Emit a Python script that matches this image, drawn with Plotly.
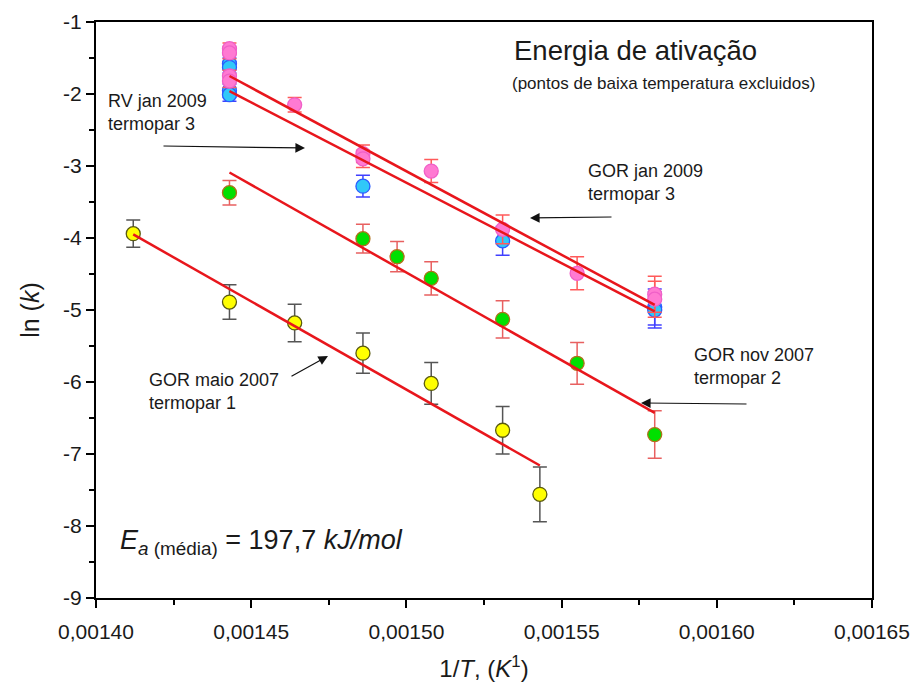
import plotly.graph_objects as go
import numpy as np

# ---------------- data ----------------
# GOR maio 2007, termopar 1 (yellow)
maio_x = [0.001412, 0.001443, 0.001464, 0.001486, 0.001508, 0.001531, 0.001543]
maio_y = [-3.94, -4.89, -5.18, -5.60, -6.02, -6.67, -7.56]
maio_err = [0.19, 0.24, 0.26, 0.28, 0.29, 0.33, 0.38]

# GOR nov 2007, termopar 2 (green)
nov_x = [0.001443, 0.001486, 0.001497, 0.001508, 0.001531, 0.001555, 0.001580]
nov_y = [-3.37, -4.01, -4.26, -4.56, -5.13, -5.74, -6.73]
nov_err = [0.17, 0.20, 0.21, 0.23, 0.26, 0.29, 0.33]

# jan 2009, termopar 3 (pink)
pink_x = [0.001443, 0.001443, 0.001443, 0.001443, 0.001464, 0.001486, 0.001486,
          0.001508, 0.001531, 0.001555, 0.001580, 0.001580]
pink_y = [-1.37, -1.43, -1.75, -1.82, -2.15, -2.83, -2.90,
          -3.07, -3.88, -4.49, -4.78, -4.85]
pink_err = [0.08, 0.08, 0.08, 0.09, 0.10, 0.12, 0.12,
            0.16, 0.20, 0.23, 0.25, 0.25]

# jan 2009, termopar 3 (cyan)
cyan_x = [0.001443, 0.001443, 0.001443, 0.001443, 0.001486, 0.001531, 0.001580, 0.001580]
cyan_y = [-1.58, -1.63, -1.95, -2.01, -3.28, -4.04, -4.96, -5.00]
cyan_err = [0.08, 0.08, 0.09, 0.09, 0.15, 0.20, 0.25, 0.25]

# linear fits
fit_maio_x = [0.001412, 0.001543]
fit_maio_y = [-3.95, -7.16]
fit_nov_x = [0.001443, 0.001580]
fit_nov_y = [-3.09, -6.43]
fit_pink_x = [0.001443, 0.001580]
fit_pink_y = [-1.75, -4.93]
fit_cyan_x = [0.001443, 0.001580]
fit_cyan_y = [-1.96, -5.02]

x_tickvals = [0.00140, 0.00145, 0.00150, 0.00155, 0.00160, 0.00165]
x_ticktext = ["0,00140", "0,00145", "0,00150", "0,00155", "0,00160", "0,00165"]
y_tickvals = [-1, -2, -3, -4, -5, -6, -7, -8, -9]
y_ticktext = ["-1", "-2", "-3", "-4", "-5", "-6", "-7", "-8", "-9"]

# ---------------- figure ----------------
W, H = 913, 696
L, R, T, B = 96, 872, 22, 598

def px(x):
    return (x - L) / (R - L)

def py(y):
    return (B - y) / (B - T)

FONT = "Liberation Sans, Arial, sans-serif"
TXT = "#1a1a1a"
RED = "#e8161c"

fig = go.Figure()

def pts(x, y, err, fill, edge, ecol):
    fig.add_trace(go.Scatter(
        x=x, y=y, mode="markers",
        marker=dict(size=14, color=fill, line=dict(color=edge, width=1.3)),
        error_y=dict(type="data", array=err, visible=True, color=ecol,
                     thickness=1.5, width=7),
        showlegend=False, hoverinfo="skip"))

pts(maio_x, maio_y, maio_err, "#ffff00", "#5a5a10", "#555555")
pts(nov_x, nov_y, nov_err, "#00e000", "#b0701a", "#e86060")
pts(cyan_x, cyan_y, cyan_err, "#30c8f8", "#2a5cff", "#4040ff")
pts(pink_x, pink_y, pink_err, "#ff7ad2", "#f060c8", "#ff5a5a")

for fx, fy in [(fit_maio_x, fit_maio_y), (fit_nov_x, fit_nov_y),
               (fit_pink_x, fit_pink_y), (fit_cyan_x, fit_cyan_y)]:
    fig.add_trace(go.Scatter(x=fx, y=fy, mode="lines",
                             line=dict(color=RED, width=2.5),
                             showlegend=False, hoverinfo="skip"))

ann = []

def text(x, y, s, size, xanchor="left"):
    ann.append(dict(x=px(x), y=py(y), xref="paper", yref="paper", text=s,
                    showarrow=False, xanchor=xanchor, yanchor="middle",
                    align="left", font=dict(family=FONT, size=size, color=TXT)))

def arrow(tx, ty, hx, hy):
    ann.append(dict(x=px(hx), y=py(hy), xref="paper", yref="paper", text="",
                    showarrow=True, ax=tx - hx, ay=ty - hy, axref="pixel", ayref="pixel",
                    arrowhead=2, arrowsize=1.6, arrowwidth=1.2, arrowcolor="#111111"))

text(512, 50, "Energia de ativação", 27.5)
text(510, 84, "(pontos de baixa temperatura excluidos)", 17)
text(106, 112, "RV jan 2009<br>termopar 3", 18)
text(586, 183, "GOR jan 2009<br>termopar 3", 18)
text(692, 367, "GOR nov 2007<br>termopar 2", 18)
text(147, 391, "GOR maio 2007<br>termopar 1", 18)
text(118, 542, "<i>E</i><sub><i>a</i> (média)</sub> = 197,7 <i>kJ/mol</i>", 27)

arrow(162, 146, 305, 148)
arrow(613, 217, 530, 218)
arrow(748, 404, 641, 403)
arrow(290, 377, 328, 356)

axis_common = dict(showline=True, linecolor="black", linewidth=2, mirror=True,
                   ticks="outside", ticklen=8, tickwidth=1.5, tickcolor="black",
                   showgrid=False, zeroline=False, automargin=False,
                   tickfont=dict(family=FONT, size=21, color=TXT))

fig.update_layout(
    width=W, height=H,
    margin=dict(l=L, r=W - R, t=T, b=H - B, autoexpand=False),
    paper_bgcolor="white", plot_bgcolor="white",
    font=dict(family=FONT, color=TXT),
    annotations=ann,
    xaxis=dict(range=[0.00140, 0.00165], tickmode="array",
               tickvals=x_tickvals, ticktext=x_ticktext, ticklabelstandoff=6,
               minor=dict(ticks="outside", ticklen=5, tickwidth=1.5, tickcolor="black",
                          tickvals=list(np.arange(0.001425, 0.00165, 0.00005))),
               title=dict(text="1/<i>T</i>, (<i>K</i><sup>1</sup>)",
                          font=dict(family=FONT, size=24, color=TXT), standoff=18),
               **axis_common),
    yaxis=dict(range=[-9, -1], tickmode="array",
               tickvals=y_tickvals, ticktext=y_ticktext,
               minor=dict(ticks="outside", ticklen=5, tickwidth=1.5, tickcolor="black",
                          tickvals=list(np.arange(-8.5, -1, 1.0))),
               title=dict(text="ln (<i>k</i>)",
                          font=dict(family=FONT, size=25, color=TXT), standoff=16),
               **axis_common),
)

fig.write_html("out.html", config={"displayModeBar": False},
               post_script="document.body.style.margin='0px';")
